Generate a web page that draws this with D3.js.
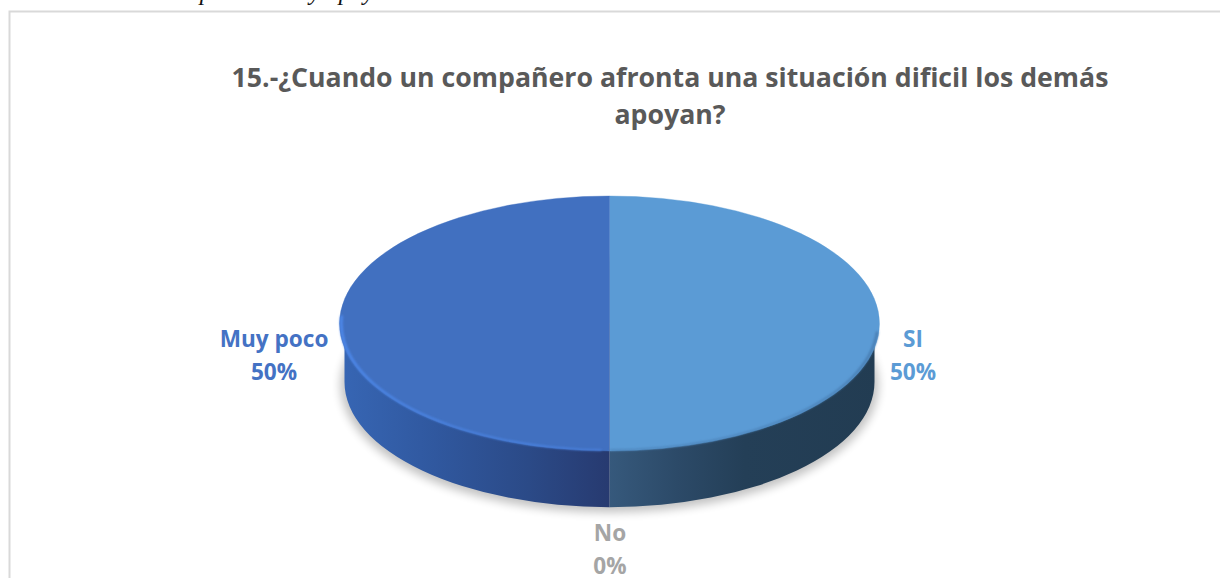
<!DOCTYPE html>
<html>
<head>
<meta charset="utf-8">
<script src="https://cdnjs.cloudflare.com/ajax/libs/d3/7.8.5/d3.min.js"></script>
<style>
html,body{margin:0;padding:0;background:#fff;overflow:hidden}
svg{display:block}
</style>
</head>
<body>
<svg id="chart" width="1220" height="578"></svg>
<script>
// Survey answers for question 15, in drawing order, clockwise from twelve o'clock.
const categories = ["SI", "No", "Muy poco"];
const shares = [50, 0, 50];
const sliceColors = ["#5b9bd5", "#a5a5a5", "#4170c0"];
const labelColors = ["#5b9bd5", "#a5a5a5", "#4472c4"];
const titleLines = ["15.-¿Cuando un compañero afronta una situación dificil los demás", "apoyan?"];
const headerLine = "compañerismo y apoyo";

const W = 1220, H = 578;
const cx = 609.5, cy = 323.5, rx = 270, ry = 127.5, depth = 58.5;
const squash = ry / rx;
const wallInset = 5;

const svg = d3.select("#chart");
const defs = svg.append("defs");

// Soft shadow under the disc, and blurs for the bevel edges
const soft = defs.append("filter").attr("id", "soft")
  .attr("x", "-10%").attr("y", "-20%").attr("width", "120%").attr("height", "140%");
soft.append("feGaussianBlur").attr("stdDeviation", 5);
const bevelBlur = defs.append("filter").attr("id", "bevelBlur")
  .attr("x", "-5%").attr("y", "-5%").attr("width", "110%").attr("height", "110%");
bevelBlur.append("feGaussianBlur").attr("stdDeviation", 1.2);

// Horizontal shading of the disc's side wall, one gradient per visible slice
function wallGradient(id, x1, x2, stops) {
  const g = defs.append("linearGradient").attr("id", id)
    .attr("gradientUnits", "userSpaceOnUse")
    .attr("x1", x1).attr("x2", x2).attr("y1", 0).attr("y2", 0);
  stops.forEach(s => g.append("stop").attr("offset", s[0]).attr("stop-color", s[1]));
}
wallGradient("wall-0", cx, cx + rx, [[0, "#36597c"], [0.25, "#2c4a68"], [0.5, "#243f57"], [1, "#223c52"]]);
wallGradient("wall-2", cx - rx, cx, [[0, "#3766b4"], [0.35, "#30589f"], [0.7, "#2b4a87"], [1, "#273a70"]]);

// Chart frame: only the top and left edges fall inside the page
svg.append("path").attr("d", `M9.5,${H}V11.5H${W}`)
  .attr("fill", "none").attr("stroke", "#d9d9d9").attr("stroke-width", 2);

// Clipped line of body text above the frame
svg.append("text").attr("x", 159).attr("y", 0)
  .attr("font-family", "'Liberation Serif'").attr("font-style", "italic")
  .attr("font-size", 24.5).attr("fill", "#111")
  .text(headerLine);

svg.append("g").selectAll("text").data(titleLines).join("text")
  .attr("x", 670).attr("y", (d, i) => 87 + i * 37)
  .attr("text-anchor", "middle")
  .attr("font-family", "'Open Sans', 'Noto Sans', sans-serif")
  .attr("font-weight", 700).attr("font-size", 26.7).attr("fill", "#595959")
  .text(d => d);

const pie = d3.pie().sort(null).value(d => d);
const arcs = pie(shares);

// Point on an ellipse for a pie angle (0 = up, clockwise)
const ellipsePoint = (a, radius, yc) => [cx + radius * Math.sin(a), yc - radius * squash * Math.cos(a)];

// Side wall outline for the part of a slice facing the viewer
function wallPath(a0, a1) {
  const from = Math.max(a0, Math.PI / 2), to = Math.min(a1, 3 * Math.PI / 2);
  if (to <= from) return null;
  const r = rx - wallInset, ryWall = r * squash;
  const [x0, y0] = ellipsePoint(from, r, cy);
  const [x1, y1] = ellipsePoint(to, r, cy);
  const [x2, y2] = ellipsePoint(to, r, cy + depth);
  const [x3, y3] = ellipsePoint(from, r, cy + depth);
  return `M${x0},${y0}L${x3},${y3}A${r},${ryWall} 0 0 1 ${x2},${y2}L${x1},${y1}A${r},${ryWall} 0 0 0 ${x0},${y0}Z`;
}

// Shadow cast on the page
svg.append("ellipse")
  .attr("cx", cx).attr("cy", cy + depth + 3)
  .attr("rx", rx - 1).attr("ry", ry)
  .attr("fill", "#000").attr("opacity", 0.24)
  .attr("filter", "url(#soft)");

// Walls, then the top face
svg.append("g").selectAll("path")
  .data(arcs.map((a, i) => ({ a, i })).filter(d => d.a.endAngle > d.a.startAngle))
  .join("path")
  .attr("d", d => wallPath(d.a.startAngle, d.a.endAngle))
  .attr("fill", d => `url(#wall-${d.i})`);

const arcGen = d3.arc().innerRadius(0).outerRadius(rx);
const face = svg.append("g").attr("transform", `translate(${cx},${cy}) scale(1,${squash})`);
face.selectAll("path").data(arcs).join("path")
  .attr("d", arcGen)
  .attr("fill", (d, i) => sliceColors[i])
  .attr("stroke", (d, i) => sliceColors[i])
  .attr("stroke-width", 0.5);

// Lit bevel along the rim of the left slice, dark soft edge on the right one
const rim = d3.arc().innerRadius(rx - 3.2).outerRadius(rx - 0.3);
const rimLayer = svg.append("g").attr("filter", "url(#bevelBlur)")
  .append("g").attr("transform", `translate(${cx},${cy}) scale(1,${squash})`);
rimLayer.append("path")
  .attr("d", rim({ startAngle: Math.PI + 0.03, endAngle: 1.52 * Math.PI }))
  .attr("fill", "#4d88ea");
rimLayer.append("path")
  .attr("d", rim({ startAngle: 0.52 * Math.PI, endAngle: Math.PI }))
  .attr("fill", "#4a7fb4");

// Data labels: category and share, two lines each
const labelAt = [[913, 347], [610, 541], [274, 347]];
const labels = svg.append("g").selectAll("g").data(arcs).join("g")
  .attr("transform", (d, i) => `translate(${labelAt[i][0]},${labelAt[i][1]})`)
  .attr("text-anchor", "middle")
  .attr("font-family", "'Open Sans', 'Noto Sans', sans-serif")
  .attr("font-weight", 700).attr("font-size", 22.6)
  .attr("fill", (d, i) => labelColors[i]);
labels.append("text").text((d, i) => categories[i]);
labels.append("text").attr("y", 33).text(d => d3.format(".0f")(d.value) + "%");
</script>
</body>
</html>
